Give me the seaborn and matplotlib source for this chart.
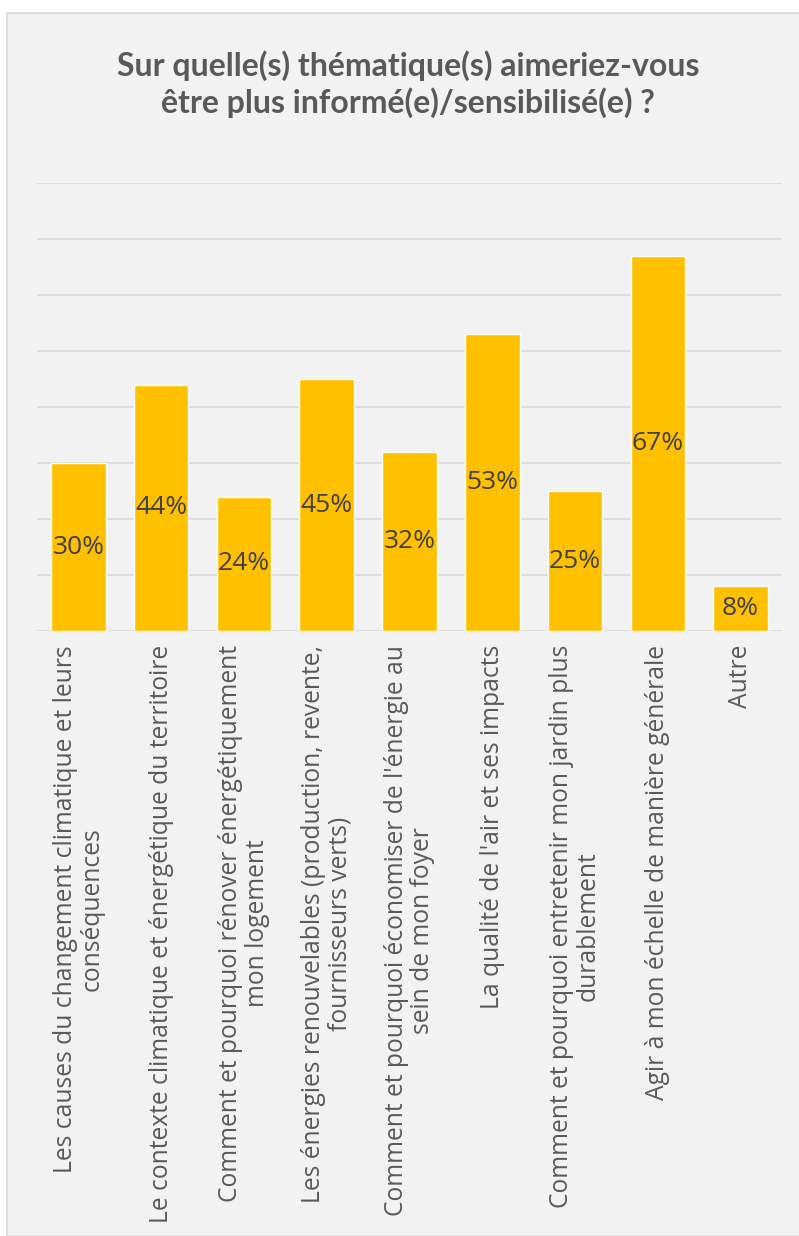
import matplotlib
matplotlib.use("Agg")
import matplotlib.pyplot as plt
import seaborn as sns
import pandas as pd
from matplotlib.patches import Rectangle

categories = [
    "Les causes du changement climatique et leurs\nconséquences",
    "Le contexte climatique et énergétique du territoire",
    "Comment et pourquoi rénover énergétiquement\nmon logement",
    "Les énergies renouvelables (production, revente,\nfournisseurs verts)",
    "Comment et pourquoi économiser de l'énergie au\nsein de mon foyer",
    "La qualité de l'air et ses impacts",
    "Comment et pourquoi entretenir mon jardin plus\ndurablement",
    "Agir à mon échelle de manière générale",
    "Autre",
]
values = [30, 44, 24, 45, 32, 53, 25, 67, 8]
title = "Sur quelle(s) thématique(s) aimeriez-vous\nêtre plus informé(e)/sensibilisé(e) ?"

sns.set_theme(style="white")
plt.rcParams['font.family'] = ['Open Sans', 'DejaVu Sans']

W, H = 799, 1236
fig = plt.figure(figsize=(W / 100, H / 100), dpi=100)
fig.patch.set_facecolor("white")
fig.patches.append(Rectangle((7 / W, 0), 1.0, (H - 13) / H, transform=fig.transFigure,
                             facecolor="#F2F2F2", edgecolor="#D9D9D9", linewidth=1.2, zorder=-10))

ax = fig.add_axes([37 / W, (H - 631) / H, 745 / W, 448 / H])
ax.set_zorder(5)
ax.set_facecolor("none")

df = pd.DataFrame({"cat": categories, "val": values})
sns.barplot(data=df, x="cat", y="val", color="#FFC000", saturation=1, width=0.66,
            ax=ax, zorder=3)

ax.set_ylim(0, 80)
ax.set_xlim(-0.5, len(categories) - 0.5)
ax.set_yticks(range(0, 81, 10))
ax.yaxis.grid(True, color="#D9D9D9", linewidth=1.2, zorder=0)
ax.set_axisbelow(True)
ax.tick_params(axis="y", left=False, labelleft=False)
ax.tick_params(axis="x", bottom=False, pad=4)
for s in ax.spines.values():
    s.set_visible(False)
ax.set_xlabel("")
ax.set_ylabel("")

for lab in ax.get_xticklabels():
    lab.set_rotation(90)
    lab.set_fontsize(17.7)
    lab.set_color("#595959")
    lab.set_linespacing(1.08)
    lab.set_ha("center")
    lab.set_va("top")
    lab.set_multialignment("center")

for c in ax.containers:
    ax.bar_label(c, labels=[f"{v}%" for v in values], label_type="center",
                 fontsize=19, color="#404040")

fig.text(408 / W, 1 - 50 / H, title, ha="center", va="top", fontsize=23,
         fontweight="bold", color="#595959", linespacing=1.25,
         family=["Lato", "DejaVu Sans"])

fig.savefig("out.png", dpi=100)
